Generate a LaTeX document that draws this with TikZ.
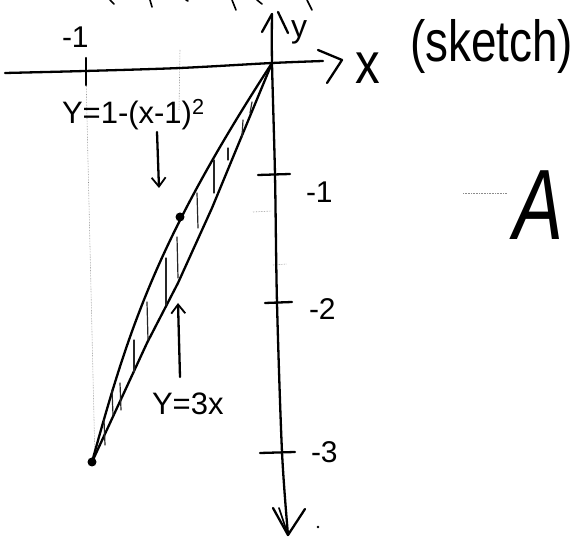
\documentclass[tikz,border=0pt]{standalone}
\usepackage{fontspec}
\setmainfont{Liberation Sans}
\usetikzlibrary{arrows.meta}
\tikzset{
  pen/.style={line width=2.3pt, line cap=round, line join=round, black},
  thinpen/.style={line width=1.6pt, line cap=round, black},
  hatch/.style={line width=1.2pt, line cap=round, black!85},
  faint/.style={line width=0.6pt, densely dotted, black!45},
  handlbl/.style={inner sep=0pt, outer sep=0pt, anchor=base west, text=black},
  barb/.style={pen, -{Straight Barb[length=9pt, width=14pt, line width=1.8pt]}},
}
\begin{document}
\begin{tikzpicture}[x=1pt, y=-1pt]
\useasboundingbox (0,0) rectangle (574,537);

% key points
\coordinate (O) at (272,63);
\coordinate (P) at (92,462);
\coordinate (xL) at (5,73);
\coordinate (xR) at (323,61);
\coordinate (yT) at (272,14);
\coordinate (yB) at (288,535);

% faint guide lines
\draw[faint] (86,75) -- (95,462);
\draw[faint] (180,50) -- (179,110);
\draw[faint] (253,212) -- (272,211);
\draw[faint] (273,265) -- (287,264);
\draw[faint, line width=0.8pt] (463,193) -- (507,193);

% x axis
\draw[pen] plot[smooth] coordinates {(xL) (85,71) (180,68) (O) (xR)};
\draw[pen] (318,50) -- (342,60) -- (327,83);
% tick at x=-1
\draw[pen] (86,58) -- (86,85);

% y axis
\draw[pen] plot[smooth] coordinates {(yT) (O) (275,175) (277,303) (282,452) (yB)};
\draw[pen] (262,32) -- (272,14);
\draw[pen] (278,12) -- (288,33);
\draw[pen] (273,508) -- (yB) -- (305,509);
\draw[thinpen] (279,508) -- (yB);
\fill (318,527) circle (1.3pt);

% y ticks
\draw[pen] (258,175) -- (290,174);
\draw[pen] (265,303) -- (292,302);
\draw[pen] (260,453) -- (295,452);

% curves: parabola (left) and line y=3x (right)
\draw[pen] (O) .. controls (155,243) and (128,332) .. (P);
\draw[pen] (O) -- (212,208) -- (178,283) -- (147,343) -- (P);

% hatching
\foreach \a/\b/\c/\d in {252/102/250/113, 243/120/242/137, 228/148/228/160, 214/160/214/193,
  197/193/198/228, 177/237/178/278, 166/258/166/305, 147/302/148/340, 134/340/134/372,
  120/383/121/410, 112/390/113/415, 104/420/105/445}
  \draw[hatch] (\a,\b) -- (\c,\d);

% dots
\fill (180,217) circle (4.5pt);
\fill (P) circle (4.5pt);

% top fragments of cut-off text
\foreach \a/\b/\c/\d in {110/0/114/4, 150/0/152/7, 186/0/188/1, 232/0/236/10, 257/0/262/4, 307/0/312/10}
  \draw[thinpen] (\a,\b) -- (\c,\d);

% labels
\node[handlbl, font=\fontsize{58}{58}\selectfont, xscale=0.79] (sketch) at (410,62) {(sketch)};
\node[handlbl, font=\fontsize{58}{58}\selectfont, xscale=0.85] (xlab) at (355,84) {x};
\node[handlbl, font=\fontsize{32}{32}\selectfont] (ylab) at (291,38) {y};
\node[handlbl, font=\fontsize{30}{30}\selectfont] (m1) at (62,48) {-1};
\node[handlbl, font=\fontsize{30}{30}\selectfont] (t1) at (306,203) {-1};
\node[handlbl, font=\fontsize{30}{30}\selectfont] (t2) at (309,320) {-2};
\node[handlbl, font=\fontsize{30}{30}\selectfont] (t3) at (311,463) {-3};
\node[handlbl, font=\fontsize{31}{31}\selectfont] (eq1) at (62,124) {Y=1-(x-1)\textsuperscript{2}};
\node[handlbl, font=\fontsize{31}{31}\selectfont] (eq2) at (152,415) {Y=3x};
\node[handlbl, font=\itshape\fontsize{100}{100}\selectfont, xscale=0.75] (A) at (513,240) {A};

% label arrows
\coordinate (a1s) at (157,132);
\coordinate (a1e) at (159,188);
\coordinate (a2s) at (180,377);
\coordinate (a2e) at (178,303);
\draw[barb] (a1s) -- (a1e);
\draw[barb] (a2s) -- (a2e);
\end{tikzpicture}
\end{document}
